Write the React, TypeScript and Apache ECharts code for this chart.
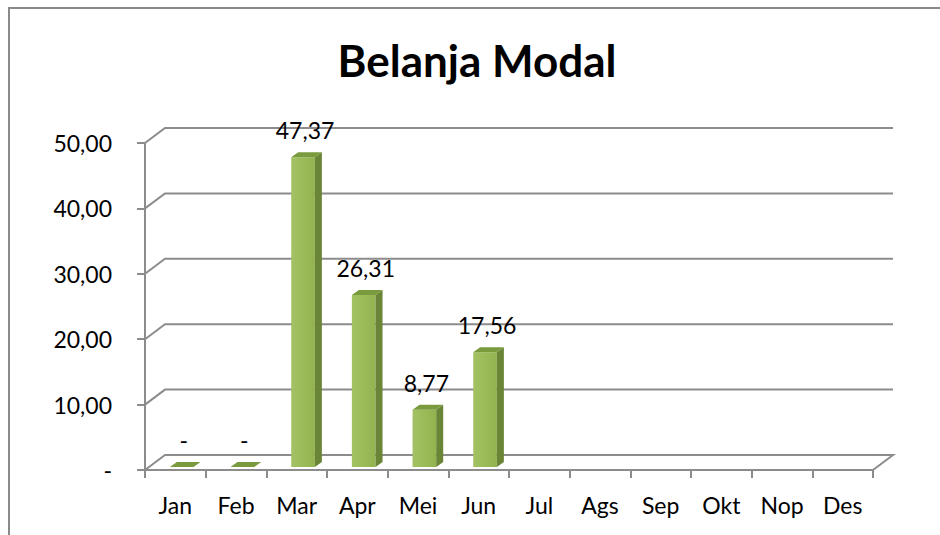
import React, { useEffect, useRef } from "react";
import * as echarts from "echarts";

const categories = ["Jan", "Feb", "Mar", "Apr", "Mei", "Jun", "Jul", "Ags", "Sep", "Okt", "Nop", "Des"];
const values: (number | null)[] = [0, 0, 47.37, 26.31, 8.77, 17.56, null, null, null, null, null, null];
const yTicks = [0, 10, 20, 30, 40, 50];
const titleText = "Belanja Modal";

const FONT = "Lato, 'Liberation Sans', sans-serif";
const GRAY = "#8c8c8c";
const DEPTH_X = 20;
const DEPTH_Y = -15;

function fmt(v: number): string {
  if (v === 0) return "-";
  return v.toFixed(2).replace(".", ",");
}

export default function App() {
  const ref = useRef<HTMLDivElement>(null);
  useEffect(() => {
    if (!ref.current) return;
    const chart = echarts.init(ref.current, undefined, { renderer: "svg" });
    const barData = values
      .map((v, i) => [i, v])
      .filter((d) => d[1] !== null);
    const gridData = yTicks.map((t) => [0, t]);

    chart.setOption({
      animation: false,
      backgroundColor: "#ffffff",
      graphic: [
        {
          type: "rect",
          shape: { x: 9, y: 8, width: 960, height: 560 },
          style: { fill: "none", stroke: "#8a8a8a", lineWidth: 2 },
          z: 0,
        },
        {
          type: "text",
          x: 477,
          y: 60,
          style: {
            text: titleText,
            font: `bold 44px ${FONT}`,
            fill: "#000",
            textAlign: "center",
            textVerticalAlign: "middle",
          },
        },
      ],
      grid: { left: 145, right: 67, top: 143, bottom: 65, containLabel: false },
      xAxis: {
        type: "category",
        data: categories,
        axisLine: { lineStyle: { color: GRAY, width: 2 } },
        axisTick: { show: true, length: 8, interval: 0, lineStyle: { color: GRAY, width: 2 } },
        axisLabel: { color: "#000", fontFamily: FONT, fontSize: 23, margin: 23, interval: 0 },
        splitLine: { show: false },
      },
      yAxis: {
        type: "value",
        min: 0,
        max: 50,
        interval: 10,
        axisLine: { show: true, lineStyle: { color: GRAY, width: 2 } },
        axisTick: { show: true, length: 8, lineStyle: { color: GRAY, width: 2 } },
        axisLabel: {
          color: "#000",
          fontFamily: FONT,
          fontSize: 23,
          margin: 33,
          formatter: (v: number) => fmt(v),
        },
        splitLine: { show: false },
      },
      series: [
        {
          type: "custom",
          name: "grid",
          silent: true,
          clip: false,
          z: 1,
          data: gridData,
          encode: { x: 0, y: 1 },
          renderItem: (params: any, api: any) => {
            const t = api.value(1);
            const p = api.coord([0, t]);
            const band = api.size([1, 0])[0];
            const left = p[0] - band / 2;
            const right = left + band * categories.length;
            const pts =
              t === 0
                ? [
                    [left, p[1]],
                    [left + DEPTH_X, p[1] + DEPTH_Y],
                    [right + DEPTH_X, p[1] + DEPTH_Y],
                    [right, p[1]],
                  ]
                : [
                    [left, p[1]],
                    [left + DEPTH_X, p[1] + DEPTH_Y],
                    [right + DEPTH_X, p[1] + DEPTH_Y],
                  ];
            return {
              type: "polyline",
              shape: { points: pts },
              style: { stroke: GRAY, lineWidth: 2, fill: "none" },
            };
          },
        },
        {
          type: "custom",
          name: "Belanja Modal",
          clip: false,
          z: 5,
          data: barData,
          encode: { x: 0, y: 1 },
          renderItem: (params: any, api: any) => {
            const i = api.value(0);
            const v = api.value(1);
            const top = api.coord([i, v]);
            const base = api.coord([i, 0]);
            const band = api.size([1, 0])[0];
            const w = band * 0.39;
            const cx = top[0] + band * 0.105;
            const fdy = -3;
            const sdx = 7;
            const sdy = -5;
            const x0 = cx - w / 2;
            const x1 = cx + w / 2;
            const yT = top[1] + fdy;
            const yB = base[1] + fdy;
            const children: any[] = [];
            if (v > 0) {
              children.push({
                type: "polygon",
                shape: { points: [[x0, yT], [x1, yT], [x1, yB], [x0, yB]] },
                style: {
                  fill: new echarts.graphic.LinearGradient(0, 0, 1, 0, [
                    { offset: 0, color: "#a3c264" },
                    { offset: 0.5, color: "#9bbb59" },
                    { offset: 1, color: "#93b350" },
                  ]),
                },
              });
              children.push({
                type: "polygon",
                shape: { points: [[x1, yT], [x1 + sdx, yT + sdy], [x1 + sdx, yB + sdy], [x1, yB]] },
                style: { fill: "#6a8535" },
              });
            }
            children.push({
              type: "polygon",
              shape: { points: [[x0, yT], [x0 + sdx, yT + sdy], [x1 + sdx, yT + sdy], [x1, yT]] },
              style: { fill: "#7a9a3e" },
            });
            children.push({
              type: "text",
              x: cx + 2,
              y: yT - 27,
              style: {
                text: fmt(v),
                font: `23px ${FONT}`,
                fill: "#000",
                textAlign: "center",
                textVerticalAlign: "middle",
              },
            });
            return { type: "group", children };
          },
        },
      ],
    });
    return () => chart.dispose();
  }, []);
  return (
    <div
      ref={ref}
      style={{ position: "absolute", left: 0, top: 0, width: 940, height: 535 }}
    />
  );
}
